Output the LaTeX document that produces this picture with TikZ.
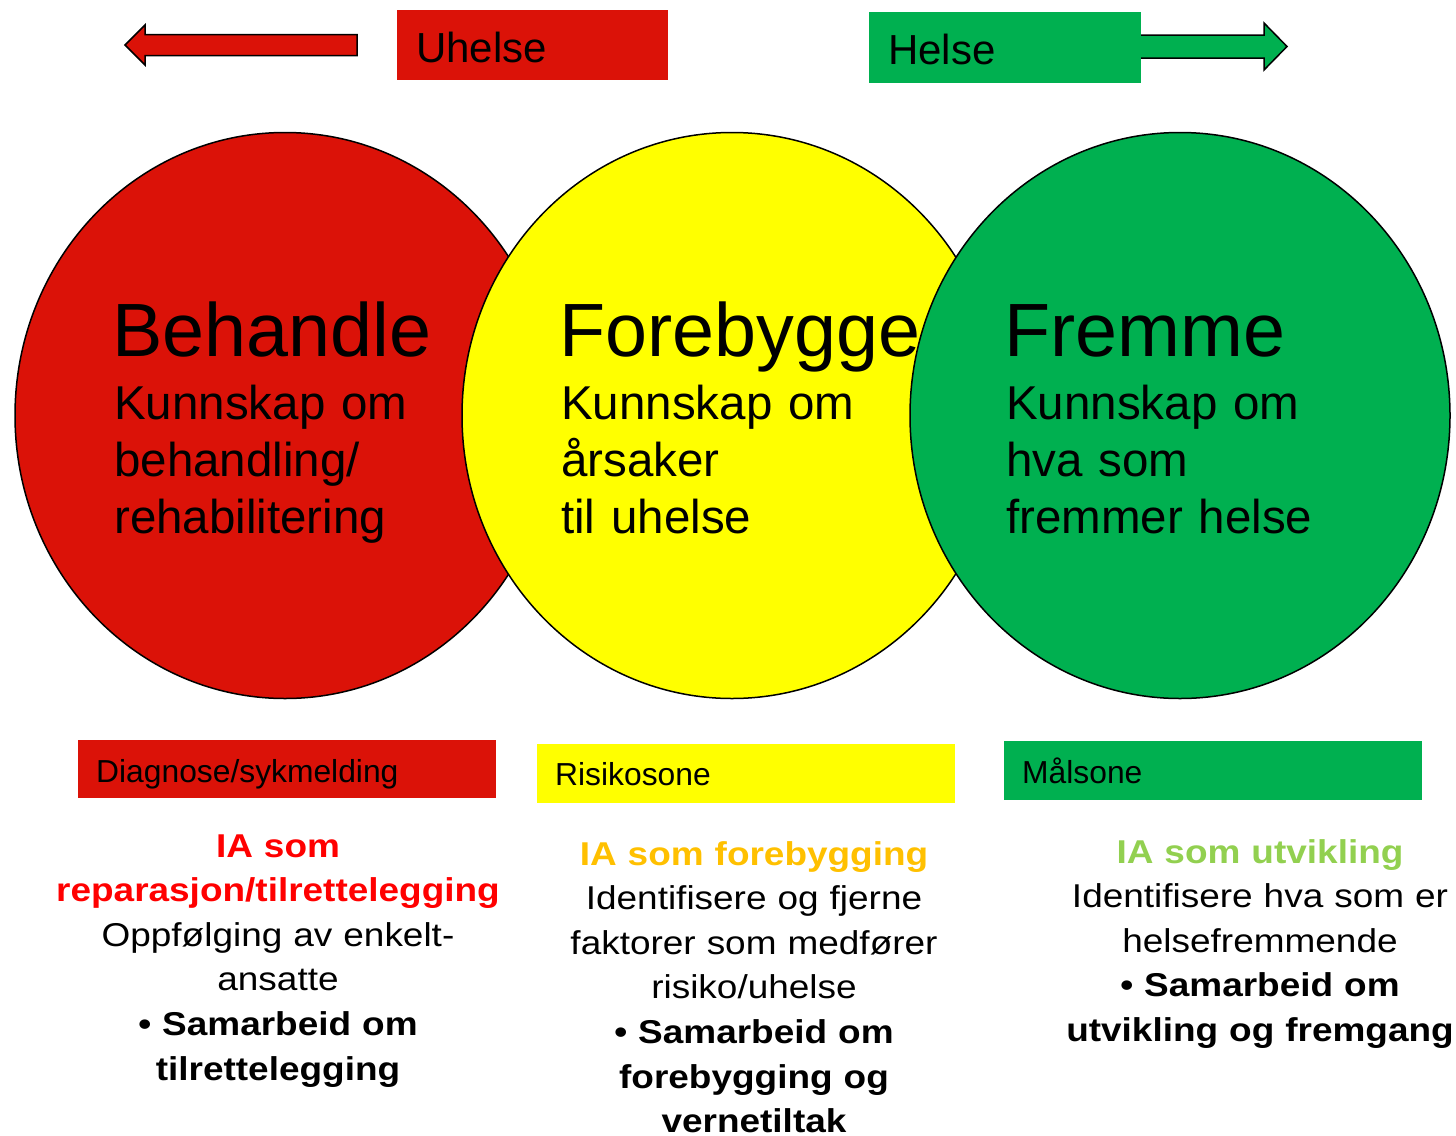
\documentclass[tikz,border=0pt]{standalone}
\usepackage{fontspec}
\setmainfont{Liberation Sans}
\newfontfamily\widefont[FakeStretch=1.12]{Liberation Sans}
\usetikzlibrary{shapes.geometric}
\definecolor{cred}{RGB}{219,18,8}
\definecolor{cyel}{RGB}{255,255,0}
\definecolor{cgrn}{RGB}{0,176,80}
\definecolor{tred}{RGB}{255,0,0}
\definecolor{torg}{RGB}{255,192,0}
\definecolor{tgrn}{RGB}{146,208,80}
\begin{document}
\begin{tikzpicture}[x=1pt,y=-1pt,
  disc/.style={ellipse, draw=black, line width=1.5pt, minimum width=540pt, minimum height=566pt, inner sep=0pt},
  bar/.style={anchor=north west, inner sep=0pt, minimum width=418pt, minimum height=58pt},
  bartext/.style={anchor=base west, inner sep=0pt, font=\fontsize{31.8}{37}\selectfont},
  toptext/.style={anchor=base west, inner sep=0pt, font=\fontsize{42}{50}\selectfont},
  topbox/.style={anchor=north west, inner sep=0pt, minimum width=271pt, minimum height=70pt},
  title/.style={anchor=base west, inner sep=0pt, font=\fontsize{75.5}{90}\selectfont},
  body/.style={anchor=base west, inner sep=0pt, text width=420pt, align=left, font=\fontsize{47.5}{57}\selectfont},
  ia/.style={anchor=base, inner sep=0pt, text width=600pt, align=center, font=\widefont\fontsize{33}{44.6}\selectfont},
  blockarrow/.style={draw=black, line width=1.5pt, line join=miter}]
\useasboundingbox (0,0) rectangle (1456,1135);

% top arrows and labels
\draw[blockarrow, fill=cred] (125,45) -- (145,25) -- (145,34.5) -- (357,34.5) -- (357,55.5) -- (145,55.5) -- (145,65) -- cycle;
\node[topbox, fill=cred] (uhbox) at (397,10) {};
\node[toptext] (uhtext) at (416,62) {Uhelse};

\draw[blockarrow, fill=cgrn] (1130,35) -- (1264,35) -- (1264,23) -- (1287,46.5) -- (1264,70) -- (1264,58) -- (1130,58) -- cycle;
\node[topbox, fill=cgrn, minimum width=272pt, minimum height=71pt] (hebox) at (869,12) {};
\node[toptext] (hetext) at (888,64) {Helse};

% circles
\node[disc, fill=cred] (redc) at (285,415.5) {};
\node[disc, fill=cyel] (yelc) at (732,415.5) {};
\node[disc, fill=cgrn] (grnc) at (1180,415.5) {};

\node[title] (t1) at (112,356) {Behandle};
\node[body] (b1) at (114,419) {Kunnskap om\\behandling/\\rehabilitering};
\node[title] (t2) at (559,356) {Forebygge};
\node[body] (b2) at (561,419) {Kunnskap om\\årsaker\\til uhelse};
\node[title] (t3) at (1004,356) {Fremme};
\node[body] (b3) at (1006,419) {Kunnskap om\\hva som\\fremmer helse};

% bottom bars
\node[bar, fill=cred] (bar1) at (78,740) {};
\node[bartext] (bt1) at (96,782) {Diagnose/sykmelding};
\node[bar, fill=cyel, minimum height=59pt] (bar2) at (537,744) {};
\node[bartext] (bt2) at (555,785) {Risikosone};
\node[bar, fill=cgrn, minimum height=59pt] (bar3) at (1004,741) {};
\node[bartext] (bt3) at (1022,783) {Målsone};

% bottom texts
\node[ia] (ia1) at (278,857) {\textcolor{tred}{\bfseries IA som}\\\textcolor{tred}{\bfseries reparasjon/tilrettelegging}\\Oppfølging av enkelt-\\ansatte\\\textbf{• Samarbeid om}\\\textbf{tilrettelegging}};
\node[ia] (ia2) at (754,865) {\textcolor{torg}{\bfseries IA som forebygging}\\Identifisere og fjerne\\faktorer som medfører\\risiko/uhelse\\\textbf{• Samarbeid om}\\\textbf{forebygging og}\\\textbf{vernetiltak}};
\node[ia] (ia3) at (1260,863) {\textcolor{tgrn}{\bfseries IA som utvikling}\\Identifisere hva som er\\helsefremmende\\\textbf{• Samarbeid om}\\\textbf{utvikling og fremgang}};
\end{tikzpicture}
\end{document}
